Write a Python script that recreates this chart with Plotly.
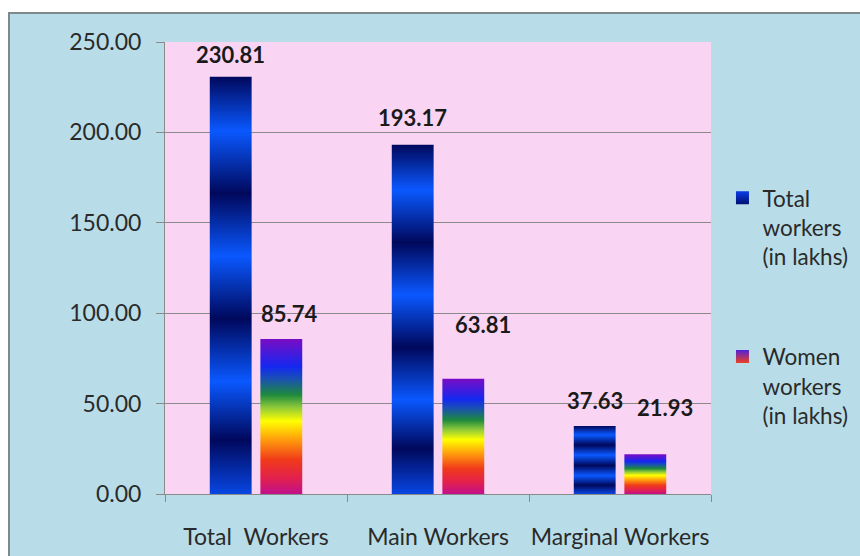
import plotly.graph_objects as go

# ---- data ----
categories = ["Total  Workers", "Main Workers", "Marginal Workers"]
total_workers = [230.81, 193.17, 37.63]
women_workers = [85.74, 63.81, 21.93]
series_names = ["Total<br>workers<br>(in lakhs)", "Women<br>workers<br>(in lakhs)"]
y_tick_values = [0, 50, 100, 150, 200, 250]

# ---- styling ----
FONT = "Lato"
TEXT_COLOR = "#2a2a2a"
OUTER_BG = "#b8dde8"
PLOT_BG = "#fad5f3"
GRID_COLOR = "#8a8a8a"

# banded "ocean" gradient for total workers, rainbow for women workers
ocean_scale = [
    [0.00, "#0846e2"], [0.13, "#00085c"], [0.27, "#0a58ff"],
    [0.42, "#00085c"], [0.57, "#0a58ff"], [0.72, "#00085c"],
    [0.87, "#0a58ff"], [1.00, "#00085c"],
]
rainbow_scale = [
    [0.00, "#c0108c"], [0.10, "#e2204e"], [0.22, "#f03a1a"],
    [0.35, "#ff9c0c"], [0.47, "#ffff00"], [0.56, "#8cc83a"],
    [0.64, "#1e8a3c"], [0.74, "#1a52b0"], [0.82, "#1428f0"],
    [1.00, "#7a0cc4"],
]

BAR_WIDTH = 0.23
BAR_OFFSETS = [-0.139, 0.139]
# (dx, dy) pixel shifts of the value labels above each bar
label_shifts = [
    [(0, 22), (0, 27), (0, 25)],
    [(8, 25), (20, 54), (20, 47)],
]

series = [
    (series_names[0], total_workers, ocean_scale, "#0a3ce8", "#00106e"),
    (series_names[1], women_workers, rainbow_scale, "#5020d8", "#f04020"),
]

fig = go.Figure()
annotations = []

for s, (name, values, scale, icon_top, icon_bottom) in enumerate(series):
    for i, v in enumerate(values):
        x0 = i + BAR_OFFSETS[s] - BAR_WIDTH / 2
        x1 = i + BAR_OFFSETS[s] + BAR_WIDTH / 2
        fig.add_trace(go.Scatter(
            x=[x0, x1, x1, x0, x0],
            y=[0, 0, v, v, 0],
            mode="none",
            fill="toself",
            fillgradient=dict(type="vertical", colorscale=scale),
            showlegend=False,
            hoverinfo="skip",
        ))
        dx, dy = label_shifts[s][i]
        annotations.append(dict(
            x=i + BAR_OFFSETS[s], y=v, xref="x", yref="y",
            text=f"{v:.2f}", showarrow=False,
            xshift=dx, yshift=dy,
            font=dict(family=FONT, size=22, color="#1a1a1a", weight="bold"),
        ))
    # legend entry with a small gradient square
    fig.add_trace(go.Scatter(
        x=[None], y=[None], mode="markers", name=name,
        legendgroup=f"g{s}",
        marker=dict(symbol="square", size=13, color=icon_top,
                    gradient=dict(type="vertical", color=icon_bottom)),
    ))

# outer chart frame: white page margin and grey border
shapes = [
    dict(type="rect", xref="paper", yref="paper", layer="above",
         x0=-0.6, x1=1.6, y0=1.0664, y1=1.3, fillcolor="white", line_width=0),
    dict(type="rect", xref="paper", yref="paper", layer="above",
         x0=-0.6, x1=-0.2875, y0=-0.5, y1=1.3, fillcolor="white", line_width=0),
    dict(type="rect", xref="paper", yref="paper", layer="above",
         x0=-0.2857, x1=1.6, y0=-0.5, y1=1.0642,
         line=dict(color="#7f898b", width=2), fillcolor="rgba(0,0,0,0)"),
]

fig.update_layout(
    width=860, height=556,
    margin=dict(l=165, r=149, t=42, b=62, autoexpand=False),
    paper_bgcolor=OUTER_BG,
    plot_bgcolor=PLOT_BG,
    font=dict(family=FONT, size=22, color=TEXT_COLOR),
    showlegend=True,
    legend=dict(
        x=1.021, xanchor="left", y=0.702, yanchor="top",
        bgcolor="rgba(0,0,0,0)", tracegroupgap=68, valign="top",
        font=dict(family=FONT, size=22.5, color=TEXT_COLOR),
        itemwidth=30,
    ),
    annotations=annotations,
    shapes=shapes,
)

fig.update_xaxes(
    range=[-0.5, 2.5],
    tickmode="array", tickvals=[0, 1, 2], ticktext=categories,
    ticks="", showgrid=False, zeroline=False,
    showline=True, linecolor=GRID_COLOR, linewidth=1,
    minor=dict(tickmode="array", tickvals=[-0.5, 0.5, 1.5, 2.5],
               ticks="outside", ticklen=7, tickcolor=GRID_COLOR, showgrid=False),
    ticklabelstandoff=22,
    tickfont=dict(family=FONT, size=23, color=TEXT_COLOR),
    fixedrange=True,
)
fig.update_yaxes(
    range=[0, 250],
    tickmode="array", tickvals=y_tick_values,
    tickformat=".2f",
    ticks="outside", ticklen=8, tickcolor=GRID_COLOR,
    ticklabelstandoff=10,
    showgrid=True, gridcolor=GRID_COLOR, gridwidth=1,
    zeroline=False,
    showline=True, linecolor=GRID_COLOR, linewidth=1,
    tickfont=dict(family=FONT, size=23, color=TEXT_COLOR),
    fixedrange=True,
)

fig.write_html("out.html")
